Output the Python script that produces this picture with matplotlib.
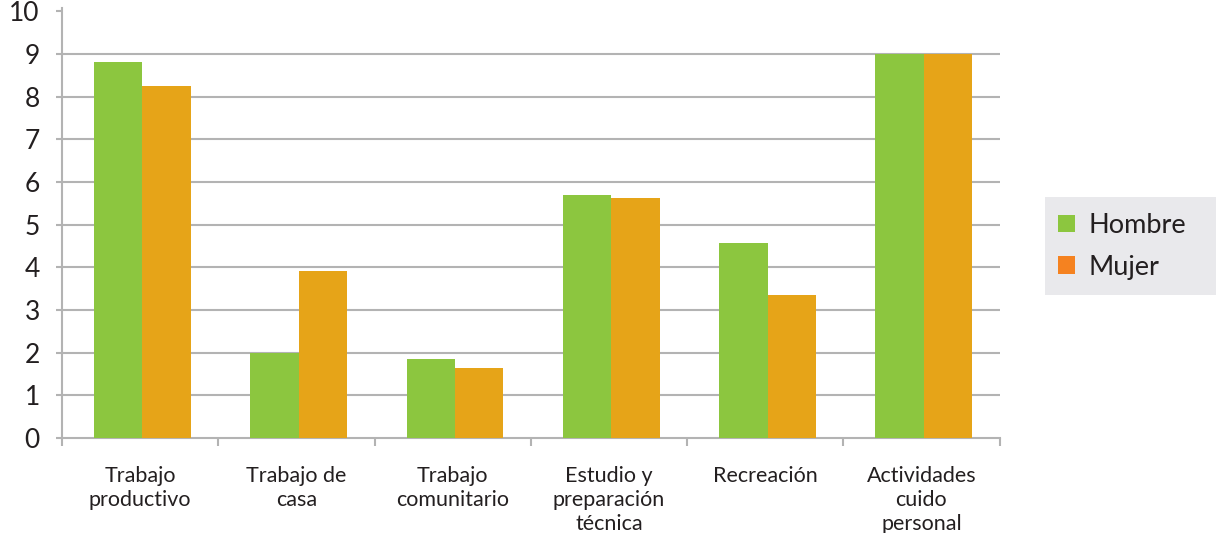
import numpy as np
import matplotlib
matplotlib.use("Agg")
import matplotlib.pyplot as plt
from matplotlib.patches import Rectangle, Patch

plt.rcParams['font.family'] = ['Lato', 'DejaVu Sans']

categorias = ["Trabajo\nproductivo", "Trabajo de\ncasa", "Trabajo\ncomunitario",
              "Estudio y\npreparación\ntécnica", "Recreación", "Actividades\ncuido\npersonal"]
hombre = [8.8, 2.0, 1.85, 5.7, 4.57, 9.0]
mujer = [8.25, 3.92, 1.64, 5.62, 3.35, 9.0]

verde = '#8cc63f'
naranja = '#e6a418'
naranja_leyenda = '#f58220'
gris = '#b3b3b3'

fig = plt.figure(figsize=(12.16, 5.33), dpi=100)
ax = fig.add_axes([0.051, 0.178, 0.771, 0.801])

x = np.arange(len(categorias))
w = 0.31
ax.bar(x - w / 2 + 0.015, hombre, w, color=verde, zorder=3)
ax.bar(x + w / 2 + 0.015, mujer, w, color=naranja, zorder=3)

ax.set_xlim(-0.5, len(categorias) - 0.5)
ax.set_ylim(0, 10)
ax.set_yticks(range(0, 11))
for v in range(1, 10):
    ax.axhline(v, color=gris, lw=1.5, zorder=1)

for s in ['top', 'right']:
    ax.spines[s].set_visible(False)
for s in ['left', 'bottom']:
    ax.spines[s].set_color(gris)
    ax.spines[s].set_linewidth(1.5)
ax.spines['left'].set_bounds(0, 10.07)

ax.tick_params(axis='y', length=4, width=1.5, color=gris, labelsize=19, pad=12,
               labelcolor='#231f20')
for lbl in ax.get_yticklabels():
    lbl.set_verticalalignment('center_baseline')
ax.set_xticks(x)
ax.set_xticklabels(categorias, fontsize=15.5, color='#231f20', linespacing=1.25)
ax.tick_params(axis='x', length=0, pad=20)
ax.set_xticks(np.arange(-0.5, len(categorias)), minor=True)
ax.tick_params(axis='x', which='minor', length=6, width=1.5, color=gris)

fig.patches.append(Rectangle((0.859, 0.4465), 0.141, 0.184, transform=fig.transFigure,
                             facecolor='#e9e9ec', edgecolor='none'))
handles = [Patch(facecolor=verde, label='Hombre'),
           Patch(facecolor=naranja_leyenda, label='Mujer')]
fig.legend(handles=handles, loc='upper left', bbox_to_anchor=(0.866, 0.611),
           frameon=False, fontsize=19.5, handlelength=0.6, handleheight=0.6,
           handletextpad=0.5, labelspacing=0.62, labelcolor='#231f20',
           borderpad=0.2, borderaxespad=0)

fig.savefig('out.png', dpi=100)
